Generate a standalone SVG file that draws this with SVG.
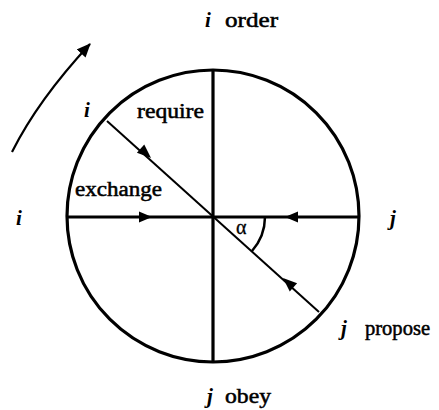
<svg xmlns="http://www.w3.org/2000/svg" width="439" height="410" viewBox="0 0 439 410">
<defs>
<style>
.t{font-family:"Liberation Serif","Times New Roman",serif;font-size:20px;fill:#000;stroke:#000;stroke-width:0.5}
.v{font-family:"Liberation Serif","Times New Roman",serif;font-size:21px;font-style:italic;font-weight:bold;fill:#000}
.thick{stroke:#000;stroke-width:3.2;fill:none}
.thin{stroke:#000;stroke-width:2;fill:none}
.ah{fill:#000;stroke:none}
</style>
<marker id="head" markerWidth="14" markerHeight="12" refX="13" refY="6" orient="auto" markerUnits="userSpaceOnUse">
<path d="M0,0 L14,6 L0,12 Z" fill="#000"/>
</marker>
</defs>
<rect width="439" height="410" fill="#fff"/>
<g id="circle">
<circle cx="213" cy="216" r="146" class="thick"/>
</g>
<g id="connectors">
<line x1="66" y1="217" x2="360" y2="217" class="thick"/>
<line x1="213" y1="70" x2="213" y2="362" class="thick"/>
<line x1="107" y1="121" x2="319" y2="312" class="thin"/>
<path d="M265,217 A52,52 0 0 1 252,251" class="thin" style="stroke-width:2.5"/>
<path d="M12,152 Q38,100 90,44" class="thin" style="stroke-width:2.2" marker-end="url(#head)"/>
<path class="ah" d="M152,217 L139,211.5 L139,222.5 Z"/>
<path class="ah" d="M285,217 L298,211.5 L298,222.5 Z"/>
<path class="ah" transform="translate(151,158) rotate(42)" d="M0,0 L-14,-5.5 L-14,5.5 Z"/>
<path class="ah" transform="translate(283,278) rotate(222)" d="M0,0 L-14,-5.5 L-14,5.5 Z"/>
</g>
<g id="labels">
<text class="v" x="205" y="27">i</text>
<text class="t" x="225" y="27" textLength="53" lengthAdjust="spacingAndGlyphs">order</text>
<text class="v" x="84" y="117">i</text>
<text class="t" x="137" y="118" textLength="67" lengthAdjust="spacingAndGlyphs">require</text>
<text class="t" x="75" y="196" textLength="87" lengthAdjust="spacingAndGlyphs">exchange</text>
<text class="v" x="16" y="225">i</text>
<text class="v" x="390" y="225">j</text>
<text class="t" x="236" y="234" style="font-size:20px;stroke-width:0.3">α</text>
<text class="v" x="341" y="335">j</text>
<text class="t" x="365" y="335" textLength="65" lengthAdjust="spacingAndGlyphs">propose</text>
<text class="v" x="207" y="403">j</text>
<text class="t" x="225" y="403" textLength="46" lengthAdjust="spacingAndGlyphs">obey</text>
</g>
</svg>
